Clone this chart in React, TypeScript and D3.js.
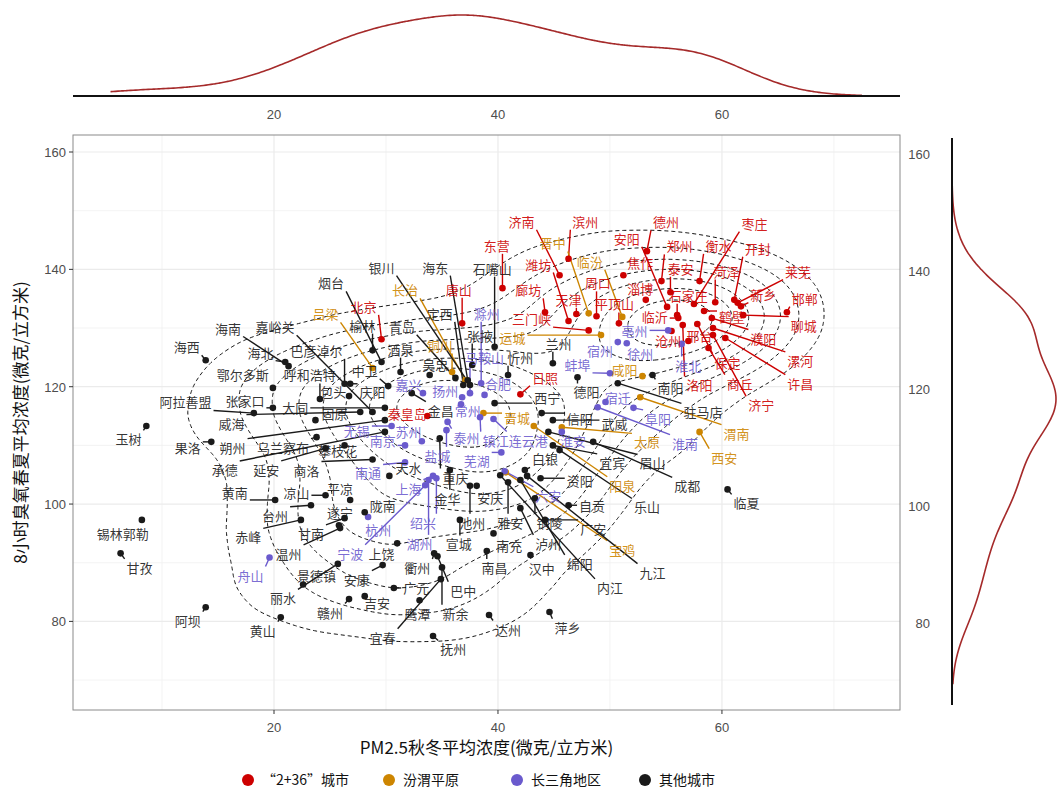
import React from "react";
import * as d3 from "d3";

type City = [string, number, number, number, number]; // name, PM2.5, O3, label PM2.5, label O3

const GROUPS = ["“2+36”城市", "汾渭平原", "长三角地区", "其他城市"];
const COLORS = ["#CD0000", "#CD8500", "#6A5ACD", "#1A1A1A"];

const xTicks = [20, 40, 60];
const yTicks = [80, 100, 120, 140, 160];
const xMinor = [10, 30, 50, 70];
const yMinor = [70, 90, 110, 130, 150];
const xDomain = [2.05, 75.9];
const yDomain = [64.9, 162.9];
const xDensityRange = [5.4, 72.5];
const yDensityRange = [69.3, 158.4];
const CONTOUR_LEVELS = 9;
const X_TITLE = "PM2.5秋冬平均浓度(微克/立方米)";
const Y_TITLE = "8小时臭氧春夏平均浓度(微克/立方米)";

const redCities: City[] = [
  ["济南", 45.5, 139.0, 42.1, 148.2], ["滨州", 46.3, 141.8, 47.8, 148.2], ["德州", 53.3, 143.1, 55.0, 148.1],
  ["枣庄", 57.5, 134.1, 62.9, 147.9], ["东营", 40.4, 136.8, 39.9, 144.1], ["安阳", 55.1, 133.6, 51.5, 145.3],
  ["郑州", 54.6, 138.0, 56.2, 144.0], ["衡水", 58.0, 138.0, 59.7, 144.1], ["开封", 61.1, 134.8, 63.2, 143.6],
  ["唐山", 36.8, 130.8, 36.5, 136.6], ["潍坊", 46.3, 131.2, 43.6, 140.9], ["焦作", 51.2, 139.0, 52.7, 141.1],
  ["泰安", 55.4, 136.1, 56.3, 140.2], ["菏泽", 59.4, 134.4, 60.4, 139.7], ["莱芜", 61.4, 134.3, 66.8, 139.7],
  ["新乡", 61.7, 133.7, 63.7, 135.8], ["廊坊", 44.2, 132.7, 42.7, 136.5], ["周口", 48.8, 132.0, 48.9, 137.7],
  ["淄博", 53.2, 134.8, 52.7, 136.8], ["石家庄", 56.0, 132.2, 57.0, 135.6], ["邯郸", 65.8, 132.7, 67.4, 135.1],
  ["北京", 29.6, 128.1, 28.0, 133.7], ["天津", 47.0, 132.4, 46.3, 134.9], ["平顶山", 50.8, 130.8, 50.4, 134.1],
  ["鹤壁", 58.4, 132.9, 60.9, 132.0], ["聊城", 61.9, 132.2, 67.3, 130.5], ["三门峡", 48.1, 129.6, 43.0, 131.6],
  ["临沂", 56.1, 131.7, 54.0, 132.0], ["濮阳", 59.1, 131.7, 63.7, 128.3], ["沧州", 55.5, 129.5, 55.2, 127.9],
  ["邢台", 57.0, 127.8, 58.0, 128.8], ["漯河", 59.2, 130.0, 67.0, 124.5], ["保定", 57.8, 130.7, 60.5, 124.2],
  ["洛阳", 56.5, 130.5, 58.0, 120.3], ["商丘", 58.8, 126.6, 61.6, 120.6], ["许昌", 60.3, 128.3, 67.0, 120.6],
  ["济宁", 59.2, 128.8, 63.5, 116.9], ["日照", 42.0, 118.7, 44.2, 121.6], ["秦皇岛", 33.7, 115.0, 31.9, 115.5],
];

const fenweiCities: City[] = [
  ["吕梁", 28.8, 123.2, 24.6, 132.4], ["长治", 37.1, 121.1, 31.7, 136.5], ["铜川", 35.9, 122.5, 34.8, 127.1],
  ["晋中", 48.1, 132.5, 44.9, 144.5], ["临汾", 51.1, 131.9, 48.2, 141.4], ["运城", 49.2, 128.8, 41.3, 128.4],
  ["晋城", 38.7, 115.5, 41.7, 114.8], ["咸阳", 52.9, 121.8, 51.3, 122.9], ["渭南", 52.7, 118.2, 61.3, 112.1],
  ["西安", 58.0, 112.3, 60.2, 108.0], ["太原", 45.7, 113.1, 53.3, 110.6], ["阳泉", 43.2, 113.3, 51.1, 103.2],
  ["宝鸡", 40.7, 105.4, 51.1, 92.3],
];

const yrdCities: City[] = [
  ["滁州", 38.5, 120.6, 39.0, 132.5], ["马鞍山", 37.5, 118.9, 38.8, 125.0], ["宿州", 50.7, 127.6, 49.1, 126.2],
  ["亳州", 55.2, 129.6, 52.2, 129.6], ["徐州", 51.5, 127.4, 52.7, 125.7], ["淮北", 56.4, 127.3, 57.0, 123.7],
  ["蚌埠", 50.0, 122.3, 47.1, 123.8], ["宿迁", 49.6, 117.4, 50.7, 118.2], ["阜阳", 52.1, 116.4, 54.3, 114.6],
  ["淮南", 48.9, 116.5, 56.7, 110.4], ["淮安", 45.7, 112.3, 46.7, 110.9], ["嘉兴", 33.3, 118.9, 32.0, 120.3],
  ["扬州", 36.8, 118.2, 35.3, 119.4], ["合肥", 38.8, 118.6, 40.0, 120.6], ["常州", 36.7, 117.0, 37.3, 116.0],
  ["无锡", 30.5, 113.3, 27.4, 112.6], ["苏州", 33.2, 110.7, 32.0, 112.3], ["南京", 31.7, 110.0, 29.7, 110.9],
  ["泰州", 35.5, 114.0, 37.2, 111.4], ["镇江", 38.4, 114.8, 39.8, 110.9], ["连云港", 39.6, 114.5, 42.7, 110.9],
  ["盐城", 35.4, 112.6, 34.6, 108.3], ["芜湖", 40.3, 108.8, 38.1, 107.5], ["南通", 31.7, 107.1, 28.4, 105.3],
  ["上海", 34.2, 104.8, 32.0, 102.7], ["杭州", 28.4, 97.8, 29.3, 95.7], ["绍兴", 34.5, 104.4, 33.3, 96.9],
  ["湖州", 33.8, 104.1, 33.0, 93.3], ["宁波", 33.5, 103.2, 26.8, 91.6], ["舟山", 19.6, 90.9, 17.9, 87.9],
  ["六安", 40.6, 105.6, 44.5, 101.5],
];

const otherCities: City[] = [
  ["海西", 13.9, 124.5, 12.2, 126.8], ["海南", 21.3, 123.5, 15.9, 130.0], ["海北", 21.0, 124.2, 18.8, 125.9],
  ["嘉峪关", 28.8, 115.7, 20.1, 130.2], ["烟台", 29.6, 124.2, 25.1, 137.7], ["银川", 37.5, 120.3, 29.6, 140.4],
  ["海东", 37.3, 121.1, 34.4, 140.4], ["石嘴山", 39.7, 126.8, 39.5, 140.2], ["定西", 36.9, 120.3, 34.8, 132.5],
  ["青岛", 36.2, 121.5, 31.4, 130.3], ["榆林", 28.8, 126.2, 27.9, 130.5], ["酒泉", 31.3, 122.5, 31.3, 126.4],
  ["中卫", 30.2, 120.1, 28.1, 122.8], ["吴忠", 33.9, 122.0, 34.4, 123.8], ["张掖", 37.7, 123.7, 38.4, 128.8],
  ["忻州", 40.9, 122.0, 42.0, 125.0], ["兰州", 44.9, 124.0, 45.4, 127.4], ["巴彦淖尔", 26.3, 120.5, 23.8, 126.2],
  ["呼和浩特", 24.1, 117.9, 23.2, 122.0], ["鄂尔多斯", 19.9, 119.8, 17.2, 122.0], ["包头", 26.7, 118.4, 25.3, 119.2],
  ["庆阳", 26.8, 120.5, 28.8, 119.1], ["张家口", 19.9, 116.4, 17.4, 117.7], ["阿拉善盟", 18.2, 115.5, 12.1, 117.4],
  ["大同", 29.9, 116.4, 21.9, 116.4], ["固原", 23.7, 114.3, 25.4, 115.5], ["威海", 27.7, 115.7, 16.2, 113.8],
  ["玉树", 8.6, 113.3, 7.0, 111.1], ["果洛", 14.4, 110.6, 12.3, 109.7], ["朔州", 29.9, 114.3, 16.3, 109.7],
  ["乌兰察布", 23.8, 111.4, 20.8, 109.7], ["攀枝花", 26.3, 110.0, 25.7, 109.2], ["承德", 29.9, 112.3, 15.6, 105.9],
  ["延安", 24.6, 109.5, 19.3, 105.9], ["商洛", 28.8, 107.6, 22.9, 105.8], ["黄南", 20.1, 100.7, 16.5, 101.9],
  ["凉山", 24.6, 101.5, 22.0, 101.9], ["平凉", 26.8, 100.7, 25.9, 102.7], ["台州", 23.3, 99.8, 20.1, 98.1],
  ["天水", 30.3, 104.8, 32.0, 106.3], ["陇南", 28.1, 98.6, 29.7, 99.8], ["遂宁", 25.8, 96.4, 25.9, 98.6],
  ["甘南", 26.3, 97.6, 23.3, 95.0], ["赤峰", 22.4, 97.3, 17.7, 94.4], ["锡林郭勒", 8.2, 97.3, 6.5, 95.0],
  ["甘孜", 6.3, 91.6, 8.0, 89.2], ["温州", 25.9, 95.9, 21.3, 91.6], ["景德镇", 22.6, 86.3, 23.8, 87.9],
  ["丽水", 25.7, 89.8, 20.8, 84.0], ["阿坝", 13.9, 82.4, 12.3, 80.2], ["黄山", 20.6, 80.7, 19.0, 78.5],
  ["赣州", 26.7, 83.8, 25.0, 81.6], ["安康", 29.7, 89.6, 27.4, 87.2], ["上饶", 31.0, 93.3, 29.6, 91.6],
  ["吉安", 28.1, 84.3, 29.2, 83.3], ["广元", 30.7, 85.7, 32.7, 85.7], ["衢州", 34.3, 91.6, 32.8, 89.2],
  ["鹰潭", 33.0, 83.6, 32.8, 81.4], ["宜春", 34.9, 87.2, 29.7, 77.3], ["巴中", 34.6, 91.1, 36.9, 85.3],
  ["新余", 35.0, 89.2, 36.2, 81.4], ["抚州", 34.2, 77.5, 36.0, 75.3], ["达州", 39.2, 81.1, 40.9, 78.7],
  ["萍乡", 44.6, 81.6, 46.2, 79.0], ["汉中", 42.9, 91.3, 43.9, 89.1], ["南昌", 39.0, 92.0, 39.7, 89.2],
  ["南充", 39.6, 95.0, 41.0, 93.0], ["宣城", 36.6, 97.3, 36.5, 93.2], ["泸州", 42.0, 99.3, 44.5, 93.3],
  ["绵阳", 42.0, 104.1, 47.3, 89.9], ["内江", 40.2, 104.9, 50.0, 85.8], ["九江", 42.6, 104.8, 53.8, 88.4],
  ["金华", 35.7, 105.8, 35.5, 101.0], ["重庆", 34.8, 111.2, 36.2, 104.6], ["池州", 37.5, 103.1, 37.7, 96.9],
  ["安庆", 38.1, 103.1, 39.3, 101.2], ["雅安", 40.9, 103.7, 41.1, 96.9], ["铜陵", 43.3, 101.0, 44.6, 96.9],
  ["白银", 42.4, 105.8, 44.2, 107.7], ["资阳", 43.8, 104.4, 47.3, 104.1], ["自贡", 46.3, 99.8, 48.4, 99.8],
  ["广安", 44.2, 97.3, 48.5, 95.9], ["西宁", 39.7, 117.2, 44.4, 118.1], ["德阳", 47.1, 121.6, 47.9, 119.1],
  ["信阳", 43.9, 115.5, 47.3, 114.5], ["武威", 44.9, 114.3, 50.4, 113.8], ["宜宾", 44.9, 110.0, 50.2, 107.1],
  ["眉山", 44.5, 112.3, 53.8, 107.0], ["成都", 48.5, 110.6, 56.9, 103.1], ["乐山", 45.5, 109.2, 53.3, 99.5],
  ["临夏", 60.5, 102.5, 62.2, 100.2], ["南阳", 53.8, 122.0, 55.4, 119.8], ["驻马店", 50.7, 120.6, 58.3, 115.7],
  ["金昌", 32.3, 118.9, 34.9, 116.0],
];

const CJK = "'Noto Sans CJK SC', 'Noto Sans', sans-serif";
const NUM = "'Liberation Sans', Arial, sans-serif";

function spread(v: number[]) {
  const s = v.slice().sort(d3.ascending);
  const sd = d3.deviation(s) as number;
  const iqr = (d3.quantile(s, 0.75) as number) - (d3.quantile(s, 0.25) as number);
  return Math.min(sd, iqr / 1.34);
}

function kde(vals: number[], bw: number, lo: number, hi: number, n = 300) {
  return d3.range(n).map((i) => {
    const t = lo + ((hi - lo) * i) / (n - 1);
    const d = (d3.mean(vals, (v) => Math.exp(-0.5 * ((t - v) / bw) ** 2)) as number) / (bw * Math.sqrt(2 * Math.PI));
    return [t, d] as [number, number];
  });
}

export default function App() {
  const W = 1057, H = 798;
  const L = 73, R = 900, T = 135, B = 710;
  const xs = d3.scaleLinear().domain(xDomain).range([L, R]);
  const ys = d3.scaleLinear().domain(yDomain).range([B, T]);

  const groups = [redCities, fenweiCities, yrdCities, otherCities];
  const all = groups.flatMap((g, gi) =>
    g.map((c) => ({ name: c[0], pm: c[1], o3: c[2], lpm: c[3], lo3: c[4], g: gi }))
  );
  const pms = all.map((d) => d.pm);
  const o3s = all.map((d) => d.o3);
  const n = all.length;

  // 2D density contours (bandwidth.nrd style)
  const hx = 1.06 * spread(pms) * Math.pow(n, -0.2);
  const hy = 1.06 * spread(o3s) * Math.pow(n, -0.2);
  const bxPx = xs(hx) - xs(0);
  const byPx = ys(0) - ys(hy);
  const r = bxPx / byPx;
  const density = d3
    .contourDensity<any>()
    .x((d) => xs(d.pm))
    .y((d) => ys(d.o3) * r)
    .size([W, Math.ceil(H * r)])
    .cellSize(2)
    .bandwidth(bxPx);
  const contourFn: any = (density as any).contours(all);
  const maxD = contourFn.max as number;
  const step = maxD / CONTOUR_LEVELS;
  const contours = d3.range(step, maxD, step).map((v) => contourFn(v));
  const proj = d3.geoTransform({
    point(x: number, y: number) {
      (this as any).stream.point(x, y / r);
    },
  });
  const cpath = d3.geoPath(proj);

  // marginal densities
  const bwx = 0.9 * spread(pms) * Math.pow(n, -0.2);
  const bwy = 0.9 * spread(o3s) * Math.pow(n, -0.2);
  const dx = kde(pms, bwx, xDensityRange[0], xDensityRange[1]);
  const dy = kde(o3s, bwy, yDensityRange[0], yDensityRange[1]);
  const topScale = d3.scaleLinear().domain([0, d3.max(dx, (d) => d[1]) as number]).range([96, 15]);
  const rightScale = d3.scaleLinear().domain([0, d3.max(dy, (d) => d[1]) as number]).range([952, 1056]);
  const topLine = d3.line<[number, number]>().x((d) => xs(d[0])).y((d) => topScale(d[1])).curve(d3.curveBasis)(dx) as string;
  const rightLine = d3.line<[number, number]>().x((d) => rightScale(d[1])).y((d) => ys(d[0])).curve(d3.curveBasis)(dy) as string;

  const FS = 13;
  const labels = all.map((d, i) => {
    const px = xs(d.pm), py = ys(d.o3), lx = xs(d.lpm), ly = ys(d.lo3);
    const w = d.name.length * FS + 4, h = FS + 4;
    const cx = Math.max(lx - w / 2, Math.min(px, lx + w / 2));
    const cy = Math.max(ly - h / 2, Math.min(py, ly + h / 2));
    const dist = Math.hypot(px - cx, py - cy);
    return { ...d, px, py, lx, ly, cx, cy, seg: dist > 5, key: i };
  });

  const legendX = [248, 389, 517, 645];

  return (
    <svg width={W} height={H} style={{ position: "absolute", left: 0, top: 0, background: "#fff" }}>
      <defs>
        <clipPath id="panel">
          <rect x={L} y={T} width={R - L} height={B - T} />
        </clipPath>
      </defs>
      <rect x={0} y={0} width={W} height={H} fill="#fff" />

      {/* top marginal */}
      <path d={topLine} fill="none" stroke="#A52A2A" strokeWidth={1.6} />
      <line x1={L} x2={R} y1={96} y2={96} stroke="#111" strokeWidth={2} />
      {xTicks.map((t) => (
        <text key={"tx" + t} x={xs(t)} y={119} textAnchor="middle" fontFamily={NUM} fontSize={13} fill="#4D4D4D">
          {t}
        </text>
      ))}

      {/* right marginal */}
      <path d={rightLine} fill="none" stroke="#A52A2A" strokeWidth={1.6} />
      <line x1={952} x2={952} y1={138} y2={705} stroke="#111" strokeWidth={2} />
      {yTicks.map((t) => (
        <text key={"ry" + t} x={930} y={ys(t) + 7} textAnchor="end" fontFamily={NUM} fontSize={13} fill="#4D4D4D">
          {t}
        </text>
      ))}

      {/* grid */}
      {xMinor.map((t) => (
        <line key={"xm" + t} x1={xs(t)} x2={xs(t)} y1={T} y2={B} stroke="#F0F0F0" strokeWidth={0.8} />
      ))}
      {yMinor.map((t) => (
        <line key={"ym" + t} x1={L} x2={R} y1={ys(t)} y2={ys(t)} stroke="#F0F0F0" strokeWidth={0.8} />
      ))}
      {xTicks.map((t) => (
        <line key={"xg" + t} x1={xs(t)} x2={xs(t)} y1={T} y2={B} stroke="#EBEBEB" strokeWidth={1.2} />
      ))}
      {yTicks.map((t) => (
        <line key={"yg" + t} x1={L} x2={R} y1={ys(t)} y2={ys(t)} stroke="#EBEBEB" strokeWidth={1.2} />
      ))}

      <g clipPath="url(#panel)">
        {contours.map((c, i) => (
          <path key={"c" + i} d={cpath(c as any) as string} fill="none" stroke="#111" strokeWidth={1} strokeDasharray="4,3" />
        ))}
        {labels.filter((d) => d.seg).map((d) => (
          <line key={"s" + d.key} x1={d.px} y1={d.py} x2={d.cx} y2={d.cy} stroke={COLORS[d.g]} strokeWidth={1.4} />
        ))}
        {labels.map((d) => (
          <circle key={"p" + d.key} cx={d.px} cy={d.py} r={3.3} fill={COLORS[d.g]} />
        ))}
        {labels.map((d) => (
          <text key={"l" + d.key} x={d.lx} y={d.ly} textAnchor="middle" dominantBaseline="central"
            fontFamily={CJK} fontSize={FS} fill={COLORS[d.g]} fillOpacity={0.9}>
            {d.name}
          </text>
        ))}
      </g>

      <rect x={L} y={T} width={R - L} height={B - T} fill="none" stroke="#8A8A8A" strokeWidth={1} />

      {/* axes */}
      {xTicks.map((t) => (
        <g key={"bx" + t}>
          <line x1={xs(t)} x2={xs(t)} y1={B} y2={B + 4} stroke="#333" />
          <text x={xs(t)} y={732} textAnchor="middle" fontFamily={NUM} fontSize={13} fill="#4D4D4D">{t}</text>
        </g>
      ))}
      {yTicks.map((t) => (
        <g key={"ly" + t}>
          <line x1={L - 4} x2={L} y1={ys(t)} y2={ys(t)} stroke="#333" />
          <text x={66} y={ys(t) + 5} textAnchor="end" fontFamily={NUM} fontSize={13} fill="#4D4D4D">{t}</text>
        </g>
      ))}
      <text x={(L + R) / 2} y={754} textAnchor="middle" fontFamily={CJK} fontSize={17} fill="#111">{X_TITLE}</text>
      <text transform={`translate(27,${(T + B) / 2}) rotate(-90)`} textAnchor="middle" fontFamily={CJK} fontSize={17} fill="#111">
        {Y_TITLE}
      </text>

      {/* legend */}
      {GROUPS.map((g, i) => (
        <g key={"lg" + i}>
          <circle cx={legendX[i]} cy={780} r={6} fill={COLORS[i]} />
          <text x={legendX[i] + 14} y={785} fontFamily={CJK} fontSize={14} fill="#111">{g}</text>
        </g>
      ))}
    </svg>
  );
}
